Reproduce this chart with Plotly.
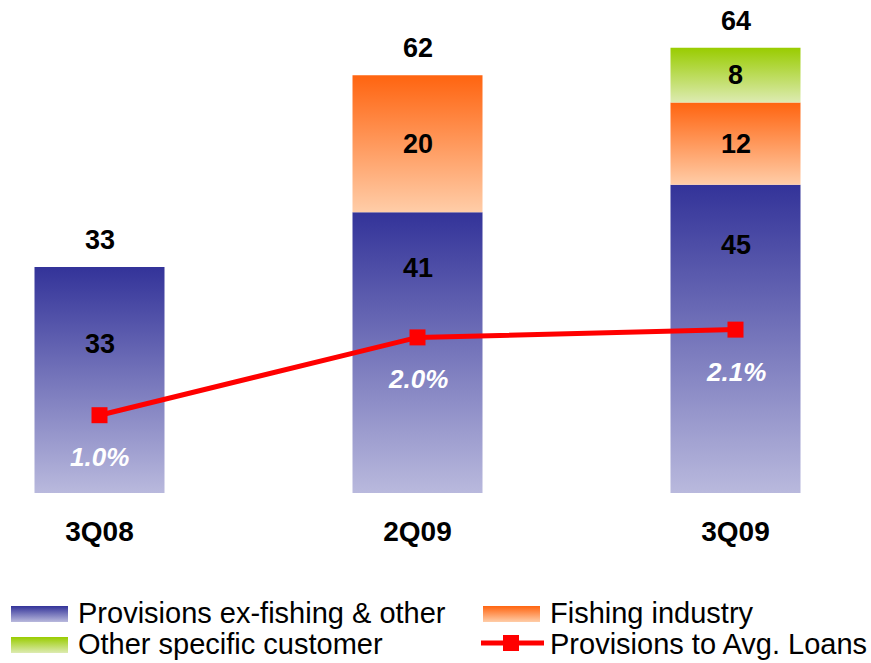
import plotly.graph_objects as go

# ---- data -----------------------------------------------------------------
quarters = ["3Q08", "2Q09", "3Q09"]
ex_fishing = [33, 41, 45]          # Provisions ex-fishing & other
fishing = [0, 20, 12]              # Fishing industry
other_specific = [0, 0, 8]         # Other specific customer
totals = [33, 62, 64]              # reported quarter totals
prov_to_loans = [1.0, 2.0, 2.1]    # Provisions to Avg. Loans (%)
series_names = ["Provisions ex-fishing & other", "Fishing industry",
                "Other specific customer", "Provisions to Avg. Loans"]

# ---- styling --------------------------------------------------------------
W, H = 871, 663
FONT = "Liberation Sans, Arial, Helvetica, sans-serif"
BAR_HALF = 0.2044                   # half bar width in category units
# (bottom colour, top colour) for each stacked series
GRAD = [("#B9B9DD", "#333399"), ("#FFCDA8", "#FF6410"), ("#DDEBB2", "#99CC00")]
RED = "#FF0000"
# depth of the ex-fishing labels below the top of their segment
EX_LABEL_DEPTH = [11.2, 8.2, 8.8]

x_idx = list(range(len(quarters)))
stacks = [ex_fishing, fishing, other_specific]
stack_tops = [sum(v) for v in zip(*stacks)]

fig = go.Figure()

# gradient-filled stacked bars, one polygon per segment
annotations = []
for s, (vals, (c_lo, c_hi)) in enumerate(zip(stacks, GRAD)):
    for i, v in enumerate(vals):
        if v <= 0:
            continue
        base = sum(stacks[k][i] for k in range(s))
        top = base + v
        xl, xr = x_idx[i] - BAR_HALF, x_idx[i] + BAR_HALF
        fig.add_trace(go.Scatter(
            x=[xl, xr, xr, xl, xl], y=[base, base, top, top, base],
            mode="lines", fill="toself", line=dict(width=0),
            fillgradient=dict(type="vertical",
                              colorscale=[[0, c_lo], [1, c_hi]]),
            name=series_names[s], showlegend=False, hoverinfo="skip",
            xaxis="x", yaxis="y"))
        label_y = top - EX_LABEL_DEPTH[i] if s == 0 else base + v / 2
        annotations.append(dict(
            x=x_idx[i], y=label_y, xref="x", yref="y", text=str(v),
            showarrow=False, xanchor="center", yanchor="middle",
            font=dict(family=FONT, size=27, color="black", weight="bold")))

# totals above each bar
for i, t in enumerate(totals):
    annotations.append(dict(
        x=x_idx[i], y=stack_tops[i], xref="x", yref="y", text=str(t),
        showarrow=False, xanchor="center", yanchor="middle", yshift=27,
        font=dict(family=FONT, size=27, color="black", weight="bold")))

# provisions-to-loans ratio line
fig.add_trace(go.Scatter(
    x=x_idx, y=prov_to_loans, mode="lines+markers",
    line=dict(color=RED, width=5),
    marker=dict(symbol="square", size=16, color=RED),
    name=series_names[3], showlegend=False, hoverinfo="skip",
    xaxis="x", yaxis="y2"))
for i, p in enumerate(prov_to_loans):
    annotations.append(dict(
        x=x_idx[i], y=p, xref="x", yref="y2", text=f"{p:.1f}%",
        showarrow=False, xanchor="center", yanchor="middle", yshift=-42,
        font=dict(family=FONT, size=26, color="white", weight="bold",
                  style="italic")))

# ---- custom legend (pixel-scaled helper axes x2/y3) -----------------------
LEG_X = [11, 483]      # swatch left edges per column
LEG_Y = [614, 645]     # row centres
SW_W, SW_H = 57, 16
TXT_DX = 65
slots = [(0, 0), (1, 0), (0, 1), (1, 1)]
for k, (col, row) in enumerate(slots):
    x0, yc = LEG_X[col], LEG_Y[row]
    if k < 3:
        c_lo, c_hi = GRAD[k]
        fig.add_trace(go.Scatter(
            x=[x0, x0 + SW_W, x0 + SW_W, x0, x0],
            y=[yc + SW_H / 2, yc + SW_H / 2, yc - SW_H / 2, yc - SW_H / 2,
               yc + SW_H / 2],
            mode="lines", fill="toself", line=dict(width=0),
            fillgradient=dict(type="vertical",
                              colorscale=[[0, c_lo], [1, c_hi]]),
            showlegend=False, hoverinfo="skip", xaxis="x2", yaxis="y3"))
    else:
        fig.add_trace(go.Scatter(
            x=[x0 - 2, x0 + 61], y=[yc - 2, yc - 2], mode="lines",
            line=dict(color=RED, width=5), showlegend=False,
            hoverinfo="skip", xaxis="x2", yaxis="y3"))
        fig.add_trace(go.Scatter(
            x=[x0 + 28], y=[yc - 2], mode="markers",
            marker=dict(symbol="square", size=16, color=RED),
            showlegend=False, hoverinfo="skip", xaxis="x2", yaxis="y3"))
    annotations.append(dict(
        x=x0 + TXT_DX, y=yc - 1.5, xref="x2", yref="y3", text=series_names[k],
        showarrow=False, xanchor="left", yanchor="middle",
        font=dict(family=FONT, size=29, color="black")))

# ---- layout -----------------------------------------------------------------
PLOT_TOP, PLOT_BOTTOM = 20, 493
y_dom = [(H - PLOT_BOTTOM) / H, (H - PLOT_TOP) / H]
span = PLOT_BOTTOM - PLOT_TOP
spacing = 318
first_c = 99.5

fig.update_layout(
    width=W, height=H,
    margin=dict(l=0, r=0, t=0, b=0),
    paper_bgcolor="white", plot_bgcolor="rgba(0,0,0,0)",
    showlegend=False,
    annotations=annotations,
    xaxis=dict(domain=[0, 1],
               range=[-first_c / spacing, (W - first_c) / spacing],
               tickmode="array", tickvals=x_idx, ticktext=quarters,
               ticks="outside", ticklen=13, tickcolor="rgba(0,0,0,0)",
               tickfont=dict(family=FONT, size=28, color="black",
                             weight="bold"),
               showgrid=False, zeroline=False, showline=False,
               fixedrange=True, anchor="y"),
    yaxis=dict(domain=y_dom, range=[0, span / 6.85], visible=False,
               showgrid=False, zeroline=False, fixedrange=True),
    yaxis2=dict(overlaying="y", range=[0, span / 77.8], visible=False,
                showgrid=False, zeroline=False, fixedrange=True),
    xaxis2=dict(domain=[0, 1], range=[0, W], visible=False,
                fixedrange=True, anchor="y3"),
    yaxis3=dict(domain=[0, 80 / H], range=[H, H - 80], visible=False,
                fixedrange=True, anchor="x2"),
)

fig.write_html("out.html")
